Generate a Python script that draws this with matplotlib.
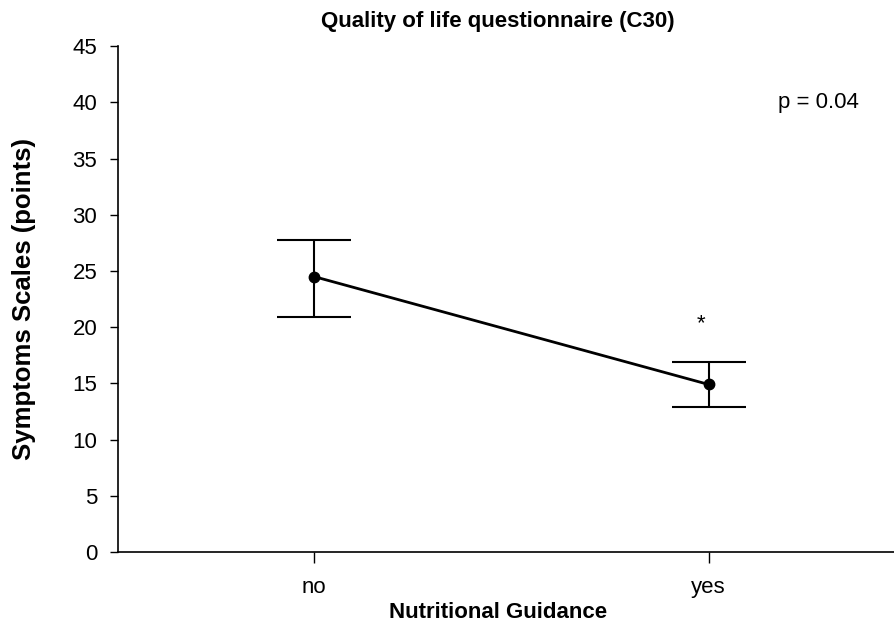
import matplotlib.pyplot as plt
from matplotlib import font_manager

groups = ["no", "yes"]
means = [24.5, 14.9]
upper = [27.8, 16.9]
lower = [20.9, 12.9]
star_y = 20.3
p_text = "p = 0.04"

names = {f.name for f in font_manager.fontManager.ttflist}
family = ["Liberation Sans Narrow"] if "Liberation Sans Narrow" in names else ["Liberation Sans"]
plt.rcParams["font.family"] = family + ["DejaVu Sans"]

fig = plt.figure(figsize=(8.94, 6.25), dpi=100)
ax = fig.add_axes([0.132, 0.117, 0.868, 0.809])

x = list(range(len(groups)))
yerr = [[m - lo for m, lo in zip(means, lower)], [up - m for m, up in zip(means, upper)]]
ax.errorbar(x, means, yerr=yerr, fmt="none", ecolor="black", elinewidth=1.5,
            capsize=26.5, capthick=1.5)
ax.plot(x, means, color="black", lw=2, marker="o", ms=7.5)

ax.text(1 - 0.02, star_y, "*", ha="center", va="center", fontsize=16)
ax.text(1.175, 40, p_text, ha="left", va="center", fontsize=16)

ax.set_xlim(-0.497, 1.47)
ax.set_ylim(0, 45)
ax.set_yticks(range(0, 46, 5))
ax.set_xticks(x)
ax.set_xticklabels(groups)
ax.tick_params(axis="y", labelsize=16, length=6, width=1, pad=9)
ax.tick_params(axis="x", labelsize=16, length=8, width=1, pad=10)

for side in ["top", "right"]:
    ax.spines[side].set_visible(False)
for side in ["left", "bottom"]:
    ax.spines[side].set_linewidth(1.2)

ax.set_title("Quality of life questionnaire (C30)", fontsize=16, fontweight="bold",
             x=0.49, pad=14)
ax.set_xlabel("Nutritional Guidance", fontsize=16, fontweight="bold", labelpad=3, x=0.49)
ax.set_ylabel("Symptoms Scales (points)", fontsize=18.5, fontweight="bold", labelpad=26)

fig.savefig("out.png", dpi=100)
